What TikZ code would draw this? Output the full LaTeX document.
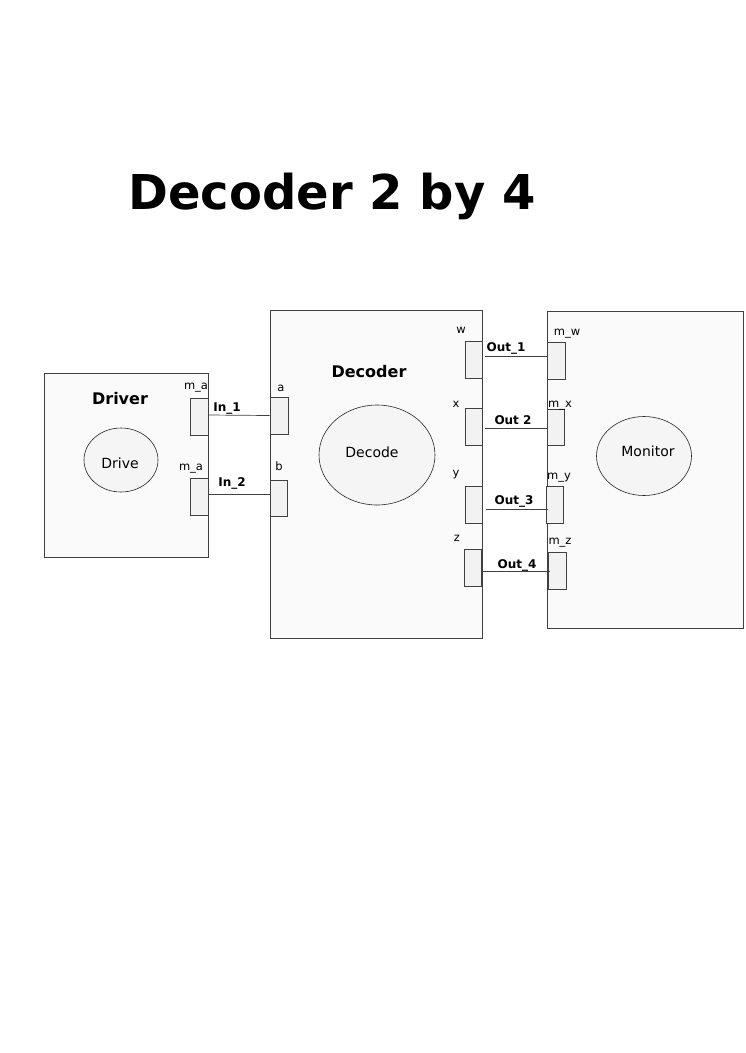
\documentclass[tikz,border=0pt]{standalone}
\usepackage{fontspec}
\setmainfont{DejaVu Sans}
\usetikzlibrary{shapes.geometric}
\begin{document}
\begin{tikzpicture}[x=1pt,y=-1pt,
  box/.style={draw=black!75,fill=black!2,line width=0.7pt},
  port/.style={draw=black!75,fill=black!5,line width=0.7pt,inner sep=0pt},
  blob/.style={draw=black!85,fill=black!4,ellipse,line width=0.6pt,inner sep=0pt},
  wire/.style={draw=black!75,line width=0.7pt},
  lbl/.style={font=\fontsize{11.5}{13}\selectfont,inner sep=0pt},
  big/.style={font=\fontsize{14}{16}\selectfont,inner sep=0pt},
  wl/.style={font=\fontsize{12}{14}\selectfont\bfseries,inner sep=0pt},
  ttl/.style={font=\fontsize{16}{19}\selectfont\bfseries,inner sep=0pt}]
\useasboundingbox (0,0) rectangle (745,1053);
\node[font=\fontsize{48}{56}\selectfont\bfseries,inner sep=0pt] (title) at (332,196) {Decoder 2 by 4};
% boxes
\path[box] (44,373) rectangle (208,557);
\path[box] (270,310) rectangle (482,638);
\path[box] (547,311) rectangle (743,628);
\node[ttl] (tdrv) at (120,399) {Driver};
\node[ttl] (tdec) at (369,372) {Decoder};
% ellipses
\node[blob,minimum width=74,minimum height=64] (drive) at (121,460) {};
\node[big] (drivet) at (120,463) {Drive};
\node[blob,minimum width=116,minimum height=100] (decode) at (377,455) {};
\node[big] (decodet) at (372,452) {Decode};
\node[blob,minimum width=95,minimum height=79] (mon) at (644,456) {};
\node[big] (mont) at (648,451) {Monitor};
% ports
\node[port,minimum width=18,minimum height=37] (ma1) at (199,416.5) {};
\node[port,minimum width=18,minimum height=37] (ma2) at (199,496.5) {};
\node[port,minimum width=18,minimum height=37] (pa) at (279,415.5) {};
\node[port,minimum width=17,minimum height=36] (pb) at (278.5,498) {};
\node[port,minimum width=17,minimum height=37] (pw) at (473.5,359.5) {};
\node[port,minimum width=17,minimum height=37] (px) at (473.5,426.5) {};
\node[port,minimum width=17,minimum height=37] (py) at (473.5,504.5) {};
\node[port,minimum width=17,minimum height=37] (pz) at (472.5,567.5) {};
\node[port,minimum width=18,minimum height=37] (mw) at (556,360.5) {};
\node[port,minimum width=17,minimum height=36] (mx) at (555.5,427) {};
\node[port,minimum width=17,minimum height=37] (my) at (554.5,504.5) {};
\node[port,minimum width=18,minimum height=37] (mz) at (557,570.5) {};
% port labels
\node[lbl] (lma1) at (196,388) {m\_a};
\node[lbl] (lma2) at (191,469) {m\_a};
\node[lbl] (la) at (281,388) {a};
\node[lbl] (lb) at (279,466) {b};
\node[lbl] (lw) at (461,330) {w};
\node[lbl] (lx) at (456,404) {x};
\node[lbl] (ly) at (456,475) {y};
\node[lbl] (lz) at (457,538) {z};
\node[lbl] (lmw) at (567,334) {m\_w};
\node[lbl] (lmx) at (560,406) {m\_x};
\node[lbl] (lmy) at (559,478) {m\_y};
\node[lbl] (lmz) at (560,543) {m\_z};
% wires
\draw[wire] ([yshift=1.5]ma1.east) -- (pa.west);
\draw[wire] ([yshift=2.5]ma2.east) -- ([yshift=4]pb.west);
\draw[wire] ([xshift=3,yshift=3.5]pw.east) -- ([yshift=4.5]mw.west);
\draw[wire] ([xshift=3,yshift=-1.5]px.east) -- ([yshift=-1]mx.west);
\draw[wire] ([xshift=4,yshift=-4.5]py.east) -- ([xshift=2,yshift=-4.5]my.west);
\draw[wire] ([yshift=-3.5]pz.east) -- ([xshift=2,yshift=-0.5]mz.west);
% wire labels
\node[wl] (in1) at (227,409) {In\_1};
\node[wl] (in2) at (232,483) {In\_2};
\node[wl] (o1) at (506,348) {Out\_1};
\node[wl] (o2) at (513,420) {Out 2};
\node[wl] (o3) at (514,501) {Out\_3};
\node[wl] (o4) at (517,565) {Out\_4};
\end{tikzpicture}
\end{document}
